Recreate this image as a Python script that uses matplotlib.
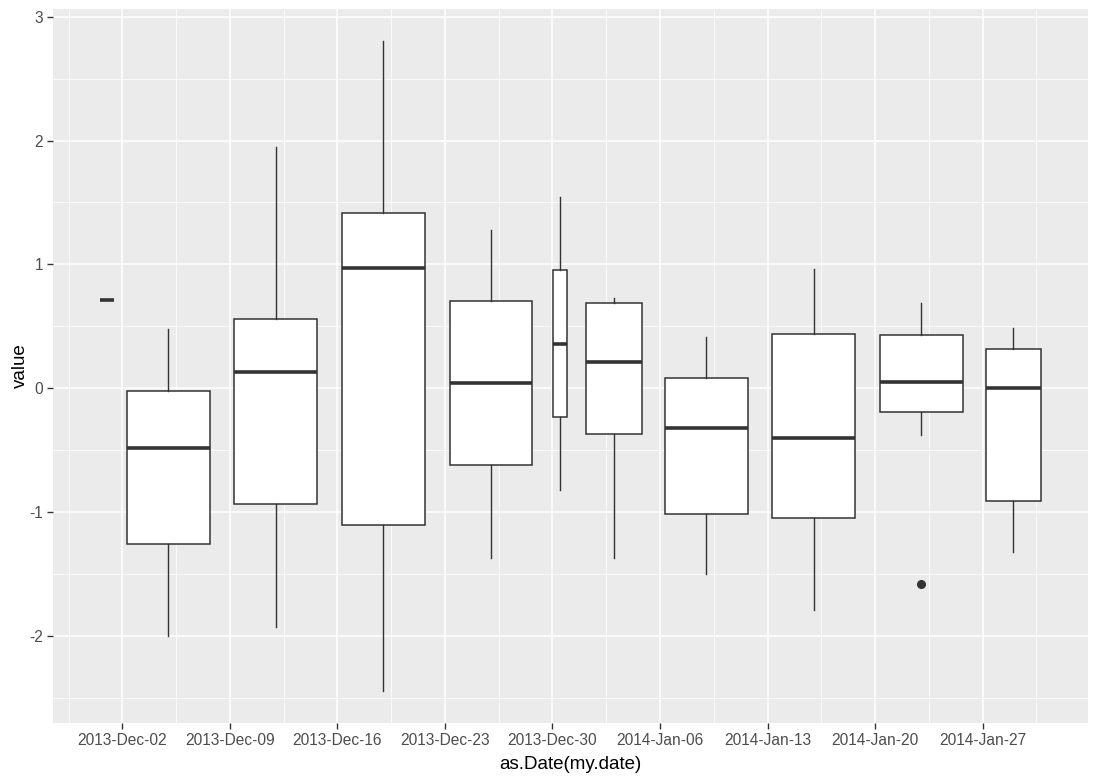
import matplotlib
matplotlib.use("Agg")
import matplotlib.pyplot as plt
import matplotlib.dates as mdates
import numpy as np
import datetime as dt

# ---- data ----
week_centers = ["2013-12-01", "2013-12-05", "2013-12-12", "2013-12-19", "2013-12-26",
                "2013-12-30 12:00", "2014-01-03", "2014-01-09", "2014-01-16",
                "2014-01-23", "2014-01-29"]
date_span_days = [0, 6, 6, 6, 6, 1, 4, 6, 6, 6, 4]   # range of dates in each group
whisker_low = [0.71, -2.00, -1.93, -2.44, -1.37, -0.82, -1.37, -1.50, -1.79, -0.38, -1.32]
q1 = [0.71, -1.26, -0.935, -1.105, -0.62, -0.234, -0.37, -1.016, -1.046, -0.194, -0.91]
median = [0.71, -0.484, 0.129, 0.968, 0.040, 0.357, 0.210, -0.323, -0.403, 0.048, 0.002]
q3 = [0.71, -0.019, 0.556, 1.419, 0.702, 0.952, 0.685, 0.081, 0.435, 0.427, 0.315]
whisker_high = [0.71, 0.476, 1.946, 2.80, 1.277, 1.543, 0.731, 0.414, 0.962, 0.688, 0.484]
outliers = [[], [], [], [], [], [], [], [], [], [-1.581], []]

tick_dates = ["2013-12-02", "2013-12-09", "2013-12-16", "2013-12-23", "2013-12-30",
              "2014-01-06", "2014-01-13", "2014-01-20", "2014-01-27"]
y_ticks = [-2, -1, 0, 1, 2, 3]

# ---- figure ----
plt.rcParams['font.family'] = ['Liberation Sans', 'DejaVu Sans']
fig = plt.figure(figsize=(10.98, 7.81), dpi=100)
ax = fig.add_axes([53/1098, 1 - 723/781, (1088 - 53)/1098, (723 - 9)/781])
ax.set_facecolor('#EBEBEB')

def to_num(s):
    fmt = "%Y-%m-%d %H:%M" if " " in s else "%Y-%m-%d"
    return mdates.date2num(dt.datetime.strptime(s, fmt))

pos = [to_num(s) for s in week_centers]
widths = [0.9 * d if d > 0 else 0.9 for d in date_span_days]

stats = []
for i in range(len(pos)):
    stats.append(dict(med=median[i], q1=q1[i], q3=q3[i], whislo=whisker_low[i],
                      whishi=whisker_high[i], fliers=outliers[i]))

edge = '#333333'
ax.bxp(stats, positions=pos, widths=widths, showcaps=False, patch_artist=True,
       boxprops=dict(facecolor='white', edgecolor=edge, linewidth=1.1),
       whiskerprops=dict(color=edge, linewidth=1.0),
       medianprops=dict(color=edge, linewidth=2.6, solid_capstyle='butt'),
       flierprops=dict(marker='o', markerfacecolor=edge, markeredgecolor=edge,
                       markersize=5.5, linestyle='none'),
       manage_ticks=False, zorder=3)

# limits (ggplot expansion)
lo = min(p - w / 2 for p, w in zip(pos, widths))
hi = max(p + w / 2 for p, w in zip(pos, widths))
pad = 0.05 * (hi - lo)
ax.set_xlim(lo - pad, hi + pad)
ymin = min(min(whisker_low), min(min(o) for o in outliers if o))
ymax = max(whisker_high)
ypad = 0.05 * (ymax - ymin)
ax.set_ylim(ymin - ypad, ymax + ypad)

tnums = [to_num(s) for s in tick_dates]
ax.set_xticks(tnums)
ax.set_xticklabels([dt.datetime.strptime(s, "%Y-%m-%d").strftime("%Y-%b-%d") for s in tick_dates])
minor_x = [tnums[0] - 3.5] + [t + 3.5 for t in tnums]
ax.set_xticks(minor_x, minor=True)
ax.set_yticks(y_ticks)
ax.set_yticklabels([str(v) for v in y_ticks])
ax.set_yticks([-2.5, -1.5, -0.5, 0.5, 1.5, 2.5], minor=True)

ax.grid(which='major', color='white', linewidth=1.1, zorder=0)
ax.grid(which='minor', color='white', linewidth=0.55, zorder=0)
ax.set_axisbelow(True)
for s in ax.spines.values():
    s.set_visible(False)
ax.tick_params(which='major', length=4, width=1.0, color='#333333',
               labelsize=11.2, labelcolor='#4D4D4D', pad=3)
ax.tick_params(which='minor', length=0)

ax.set_xlabel('as.Date(my.date)', fontsize=13.5, color='black', labelpad=6)
ax.set_ylabel('value', fontsize=13.5, color='black', labelpad=0)

fig.savefig('out.png', dpi=100, facecolor='white')
